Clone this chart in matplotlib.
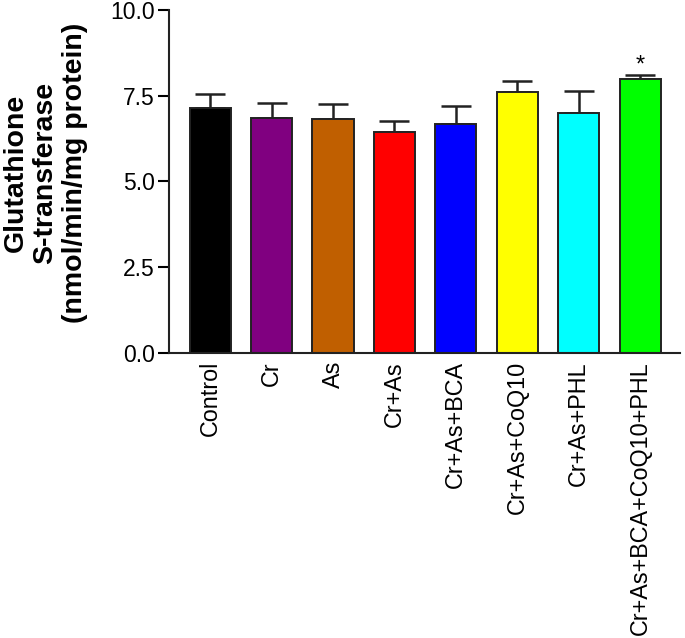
import matplotlib
matplotlib.use("Agg")
import matplotlib.pyplot as plt
import numpy as np

plt.rcParams['font.family'] = ['Liberation Sans', 'DejaVu Sans']

groups = ['Control', 'Cr', 'As', 'Cr+As', 'Cr+As+BCA', 'Cr+As+CoQ10',
          'Cr+As+PHL', 'Cr+As+BCA+CoQ10+PHL']
means = [7.13, 6.85, 6.83, 6.43, 6.67, 7.62, 7.00, 7.98]
sem = [0.41, 0.45, 0.42, 0.33, 0.54, 0.32, 0.63, 0.13]
colors = ['#000000', '#800080', '#C05F00', '#FF0000', '#0000FF',
          '#FFFF00', '#00FFFF', '#00FF00']
stars = ['', '', '', '', '', '', '', '*']

fig = plt.figure(figsize=(6.85, 6.38), dpi=100)
ax = fig.add_axes([0.2467, 0.4472, 0.746, 0.537])

x = np.arange(len(groups))
ax.errorbar(x, means, yerr=[np.zeros(len(sem)), sem], fmt='none',
            ecolor='#222222', elinewidth=1.8, capsize=11, capthick=1.8, zorder=1)
ax.bar(x, means, width=0.67, color=colors, edgecolor='#222222',
       linewidth=1.4, zorder=2)

for xi, m, s, st in zip(x, means, sem, stars):
    if st:
        ax.text(xi, m + s - 0.05, st, ha='center', va='bottom', fontsize=17)

ax.set_xlim(-0.67, 7.65)
ax.set_ylim(0, 10)
ax.set_yticks([0, 2.5, 5.0, 7.5, 10.0])
ax.set_yticklabels(['0.0', '2.5', '5.0', '7.5', '10.0'])
ax.set_xticks(x)
ax.set_xticklabels(groups, rotation=90)
ax.tick_params(axis='x', length=0, labelsize=16.8, pad=6)
ax.tick_params(axis='y', length=8, width=1.5, labelsize=16.5, pad=2)

for side in ['top', 'right']:
    ax.spines[side].set_visible(False)
for side in ['left', 'bottom']:
    ax.spines[side].set_linewidth(1.5)
    ax.spines[side].set_color('#222222')

ax.set_ylabel('Glutathione\nS-transferase\n(nmol/min/mg protein)',
              fontsize=20.5, fontweight='bold', linespacing=1.17, labelpad=16.5)
ax.yaxis.label.set_y(0.525)

fig.savefig('out.png', dpi=100)
